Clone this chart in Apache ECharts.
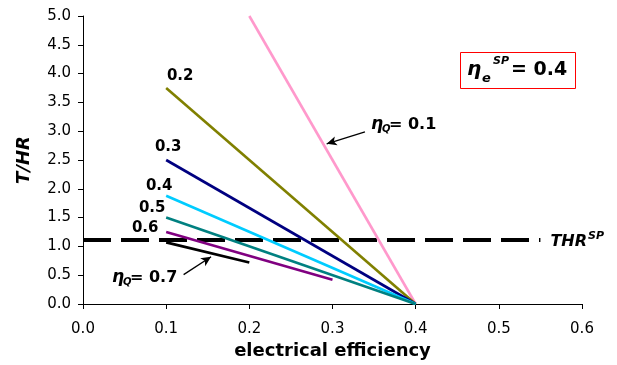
<!DOCTYPE html>
<html>
<head>
<meta charset="utf-8">
<script src="https://cdn.jsdelivr.net/npm/echarts@6/dist/echarts.min.js"></script>
<style>
  html, body { margin: 0; padding: 0; background: #fff; }
  #chart { width: 617px; height: 365px; }
</style>
</head>
<body>
<div id="chart"></div>
<script>
// eta_Q of each line and its two end points
var etaQ = ['0.1', '0.2', '0.3', '0.4', '0.5', '0.6', '0.7'];
var xStart = [0.2, 0.1, 0.1, 0.1, 0.1, 0.1, 0.1];
var yStart = [5.0, 3.75, 2.5, 1.88, 1.5, 1.25, 1.07];
var xEnd = [0.4, 0.4, 0.4, 0.4, 0.4, 0.3, 0.2];
var yEnd = [0, 0, 0, 0, 0, 0.42, 0.72];
var lineColors = ['#ff99cc', '#808000', '#000080', '#00ccff', '#008080', '#800080', '#000000'];
// offset of the small eta_Q label from the start point (0.1 ... 0.6 labels)
var labelOffsets = [null, [14, -12], [2, -13], [-7, -10], [-14, -9], [-21, -4], null];

var thrSP = 1.11;
var thrX = [0, 0.55];

// arrows for the two eta_Q annotations
var arrowQ1 = [[0.339, 2.99], [0.293, 2.78]];
var arrowQ7 = [[0.121, 0.51], [0.154, 0.82]];

var FONT = 'DejaVu Sans';

var chart = echarts.init(document.getElementById('chart'));

var series = [];
etaQ.forEach(function (q, i) {
  var first = { value: [xStart[i], yStart[i]] };
  if (labelOffsets[i]) {
    first.label = {
      show: true,
      position: 'inside',
      offset: labelOffsets[i],
      formatter: q,
      fontFamily: FONT,
      fontWeight: 'bold',
      fontSize: 15,
      color: '#000'
    };
  }
  series.push({
    name: q,
    type: 'line',
    data: [first, [xEnd[i], yEnd[i]]],
    symbol: 'circle',
    symbolSize: 0,
    lineStyle: { color: lineColors[i], width: 2.6 },
    itemStyle: { color: lineColors[i] },
    z: 3,
    silent: true
  });
});

// THR^SP dashed line
series.push({
  name: 'THR',
  type: 'line',
  data: [[thrX[0], thrSP], [thrX[1], thrSP]],
  symbol: 'none',
  lineStyle: { color: '#000', width: 4, type: [28, 10] },
  z: 2,
  endLabel: {
    show: true,
    distance: 10,
    formatter: '{a|THR}{b|SP}',
    rich: {
      a: { fontFamily: FONT, fontStyle: 'italic', fontWeight: 'bold', fontSize: 16, color: '#000', verticalAlign: 'bottom', lineHeight: 18 },
      b: { fontFamily: FONT, fontStyle: 'italic', fontWeight: 'bold', fontSize: 11, color: '#000', verticalAlign: 'top', padding: [0, 0, 8, 1] }
    }
  },
  markLine: {
    silent: true,
    symbol: ['none', 'arrow'],
    symbolSize: [7, 10],
    label: { show: false },
    lineStyle: { color: '#000', width: 1.3, type: 'solid' },
    data: [
      [{ coord: arrowQ1[0] }, { coord: arrowQ1[1] }],
      [{ coord: arrowQ7[0] }, { coord: arrowQ7[1] }]
    ]
  }
});

function txt(x, y, s, size, style, weight) {
  return {
    type: 'text', x: x, y: y,
    style: {
      text: s, fill: '#000', fontFamily: FONT,
      fontSize: size, fontStyle: style || 'normal', fontWeight: weight || 'bold',
      verticalAlign: 'top', align: 'left'
    }
  };
}

var option = {
  animation: false,
  grid: { left: 83, right: 35, top: 16, bottom: 61, containLabel: false },
  xAxis: {
    type: 'value',
    min: 0, max: 0.6, interval: 0.1,
    name: 'electrical efficiency',
    nameLocation: 'middle',
    nameGap: 38,
    nameTextStyle: { fontFamily: FONT, fontWeight: 'bold', fontSize: 18, color: '#000' },
    axisLine: { lineStyle: { color: '#000', width: 1 } },
    axisTick: { show: true, length: 5, lineStyle: { color: '#000' } },
    axisLabel: {
      margin: 18, fontFamily: FONT, fontSize: 15, color: '#000',
      formatter: function (v) { return v.toFixed(1); }
    },
    splitLine: { show: false }
  },
  yAxis: {
    type: 'value',
    min: 0, max: 5, interval: 0.5,
    name: 'T/HR',
    nameLocation: 'middle',
    nameGap: 50,
    nameTextStyle: { fontFamily: FONT, fontWeight: 'bold', fontStyle: 'italic', fontSize: 18, color: '#000' },
    axisLine: { show: true, lineStyle: { color: '#000', width: 1 } },
    axisTick: { show: true, length: 5, lineStyle: { color: '#000' } },
    axisLabel: {
      margin: 12, fontFamily: FONT, fontSize: 15, color: '#000',
      formatter: function (v) { return v.toFixed(1); }
    },
    splitLine: { show: false }
  },
  series: series,
  graphic: [
    // eta_e^SP box
    {
      type: 'rect',
      shape: { x: 460.5, y: 52.5, width: 115, height: 36 },
      style: { fill: '#fff', stroke: '#ff0000', lineWidth: 1 },
      z: 10
    },
    Object.assign(txt(467, 60, 'η', 20, 'italic'), { z: 11 }),
    Object.assign(txt(482, 72, 'e', 13, 'italic'), { z: 11 }),
    Object.assign(txt(493, 56, 'SP', 11, 'italic'), { z: 11 }),
    Object.assign(txt(511, 61, '= 0.4', 19), { z: 11 }),
    // eta_Q = 0.1
    txt(371, 116, 'η', 17, 'italic'),
    txt(382, 124, 'Q', 10, 'italic'),
    txt(389, 117, '= 0.1', 16),
    // eta_Q = 0.7
    txt(112, 269, 'η', 17, 'italic'),
    txt(123, 277, 'Q', 10, 'italic'),
    txt(130, 270, '= 0.7', 16)
  ]
};

chart.setOption(option);
</script>
</body>
</html>
